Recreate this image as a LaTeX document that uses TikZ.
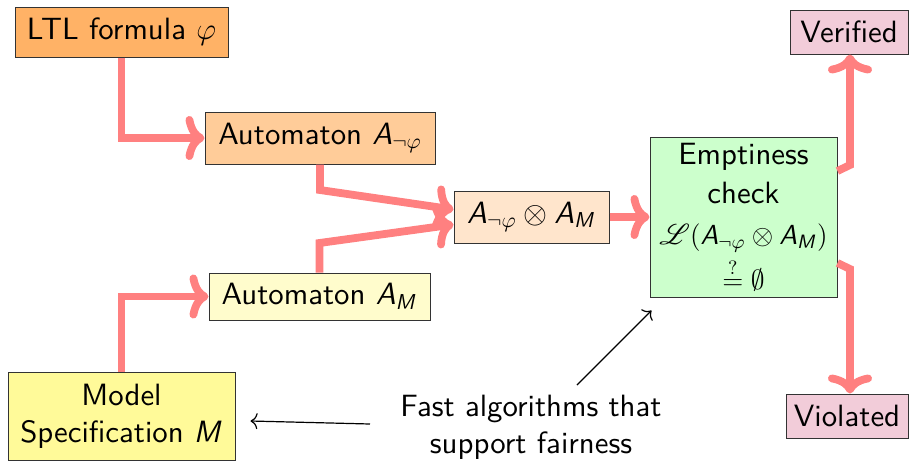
\documentclass[tikz,border=0pt]{standalone}
\usepackage{fix-cm}
\usepackage{amsmath,amssymb}
\usepackage{mathrsfs}
\usepackage{fontspec}
\setsansfont{lmsans10-regular.otf}[ItalicFont=lmsans10-oblique.otf, SlantedFont=lmsans10-oblique.otf]
\usetikzlibrary{arrows.meta,calc}
\renewcommand{\familydefault}{\sfdefault}
% sans-serif italic letters for automata names
\DeclareMathAlphabet{\mathsfit}{OT1}{cmss}{m}{sl}
\newcommand{\An}{\mathsfit{A}_{\neg\varphi}}
\newcommand{\AM}{\mathsfit{A}_{\mathsfit{M}}}
\newcommand{\smallmath}{\fontsize{13.8}{16}\selectfont}

\begin{document}
\begin{tikzpicture}[x=0.5pt,y=-0.5pt,
  font=\fontsize{15.4}{18.3}\selectfont,
  box/.style={draw=black!80, line width=0.5pt, inner sep=0pt, align=center},
  flow/.style={draw=red!50, line width=3.9pt,
    -{Computer Modern Rightarrow[round,length=9.5pt,width=22pt]}},
  note/.style={draw=black, line width=0.6pt,
    -{Computer Modern Rightarrow[length=3.5pt,width=8pt]}}]
\useasboundingbox (0,0) rectangle (912,462);

% boxes
\node[box, fill=orange!60, minimum width=106.5pt, minimum height=25pt] (ltl) at (121.5,32) {LTL formula $\varphi$};
\node[box, fill=orange!40, minimum width=115pt, minimum height=26pt] (aneg) at (320,138) {Automaton $\An$};
\node[box, fill=orange!20, minimum width=77.5pt, minimum height=26pt] (prod) at (531.5,217) {$\An\otimes\AM$};
\node[box, fill=yellow!20, minimum width=110.5pt, minimum height=23.5pt] (am) at (319.5,296.5) {Automaton $\AM$};
\node[box, fill=yellow!40, minimum width=113.5pt, minimum height=44pt] (model) at (121.5,416) {Model\\Specification $\mathsfit{M}$};
\node[box, fill=green!20, minimum width=93.5pt, minimum height=80pt] (empt) at (743.5,217)
  {Emptiness\\[1.5pt]check\\[2pt]{\smallmath$\mathscr{L}(\An\otimes\AM)$}\\[2pt]{\smallmath$\stackrel{?}{=}\emptyset$}};
\node[box, fill=purple!20, minimum width=59pt, minimum height=22pt] (verified) at (849,32) {Verified};
\node[box, fill=purple!20, minimum width=61pt, minimum height=22pt] (violated) at (847,416) {Violated};
\node[align=center, inner sep=0pt] (fast) at (531,427) {Fast algorithms that\\support fairness};

% bend points of the thick connectors
\coordinate (ka) at (320,190);
\coordinate (kb) at (319.5,243);
\coordinate (vb) at (850,165);
\coordinate (xb) at (850,269);

% thick flow connectors
\draw[flow] (ltl.south) |- (aneg.west);
\draw[flow] (aneg.south) -- (ka) -- ([yshift=3.75pt]prod.west);
\draw[flow] (am.north) -- (kb) -- ([yshift=-3.75pt]prod.west);
\draw[flow] (model.north) |- (am.west);
\draw[flow] (prod.east) -- (empt.west);
\draw[flow] ([yshift=23pt]empt.east) -- (vb) -- (vb |- verified.south);
\draw[flow] ([yshift=-23pt]empt.east) -- (xb) -- (xb |- violated.north);

% thin annotation arrows
\draw[note] ($(fast.center)+(-161,-3)$) -- ($(model.east)+(15,5)$);
\draw[note] ($(fast.center)+(46,-42)$) -- ($(empt.south west)+(2,13)$);
\end{tikzpicture}
\end{document}
